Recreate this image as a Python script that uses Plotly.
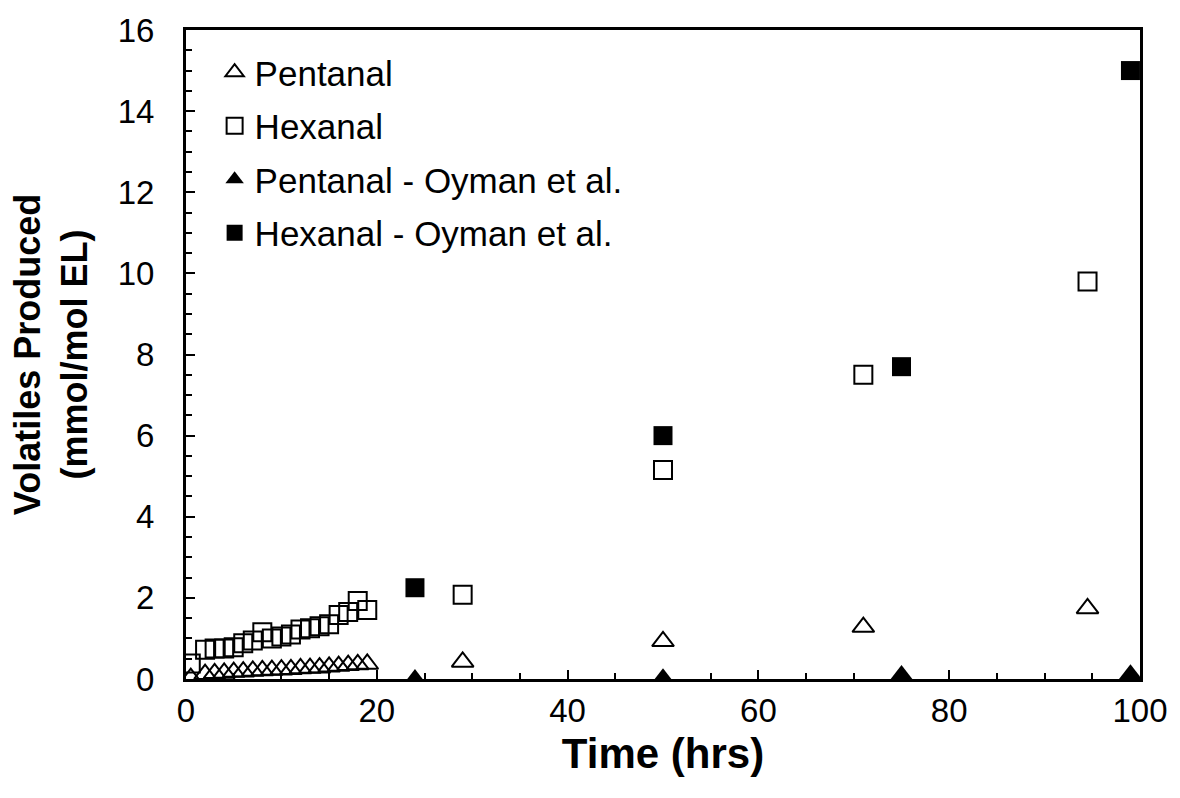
import plotly.graph_objects as go

# Data
pent_x = [0.5, 2, 3, 4, 5, 6, 7, 8, 9, 10, 11, 12, 13, 14, 15, 16, 17, 18, 19, 29, 50, 71, 94.5]
pent_y = [0.02, 0.12, 0.14, 0.15, 0.17, 0.18, 0.2, 0.21, 0.22, 0.23, 0.24, 0.26, 0.27, 0.28, 0.3,
          0.32, 0.34, 0.36, 0.37, 0.42, 0.93, 1.28, 1.74]
hex_x = [0.5, 2, 3, 4, 5, 6, 7, 8, 9, 10, 11, 12, 13, 14, 15, 16, 17, 18, 19, 29, 50, 71, 94.5]
hex_y = [0.38, 0.72, 0.75, 0.75, 0.78, 0.88, 0.95, 1.15, 1.0, 1.05, 1.1, 1.22, 1.25, 1.3, 1.35,
         1.58, 1.65, 1.92, 1.7, 2.08, 5.15, 7.5, 9.8]
oy_pent_x = [24, 50, 75, 99]
oy_pent_y = [0.0, 0.02, 0.1, 0.12]
oy_hex_x = [24, 50, 75, 99]
oy_hex_y = [2.25, 6.0, 7.7, 15.0]

FONT = "Arial, Liberation Sans, sans-serif"

fig = go.Figure()
fig.add_trace(go.Scatter(x=pent_x, y=pent_y, mode="markers", name="Pentanal", legendgroup="a",
                         marker=dict(symbol="triangle-up-open", size=19, color="black",
                                     line=dict(width=2, color="black"))))
fig.add_trace(go.Scatter(x=hex_x, y=hex_y, mode="markers", name="Hexanal", legendgroup="b",
                         marker=dict(symbol="square-open", size=18, color="black",
                                     line=dict(width=2, color="black"))))
fig.add_trace(go.Scatter(x=oy_pent_x, y=oy_pent_y, mode="markers", name="Pentanal - Oyman et al.",
                         legendgroup="c",
                         marker=dict(symbol="triangle-up", size=20, color="black",
                                     line=dict(width=0))))
fig.add_trace(go.Scatter(x=oy_hex_x, y=oy_hex_y, mode="markers", name="Hexanal - Oyman et al.",
                         legendgroup="d",
                         marker=dict(symbol="square", size=19, color="black",
                                     line=dict(width=0))))

fig.update_layout(
    width=1180, height=798,
    margin=dict(l=186, r=24, t=28, b=119),
    paper_bgcolor="white", plot_bgcolor="white",
    font=dict(family=FONT, size=33, color="black"),
    showlegend=True,
    legend=dict(x=0.03, y=0.98, xanchor="left", yanchor="top",
                font=dict(family=FONT, size=35, color="black"),
                bgcolor="rgba(0,0,0,0)", tracegroupgap=5, itemwidth=30),
    xaxis=dict(range=[0, 100], dtick=20, tick0=0, showgrid=False, zeroline=False,
               showline=True, linecolor="black", linewidth=3, mirror=True,
               ticks="inside", ticklen=9, tickwidth=2, tickcolor="black",
               minor=dict(dtick=5, ticks="inside", ticklen=6, tickwidth=2, tickcolor="black"),
               tickfont=dict(family=FONT, size=33), ticklabelstandoff=0,
               ticklabeloverflow="allow",
               title=dict(text="<b>Time (hrs)</b>", font=dict(family=FONT, size=42), standoff=12)),
    yaxis=dict(range=[0, 16], dtick=2, tick0=0, showgrid=False, zeroline=False,
               showline=True, linecolor="black", linewidth=3, mirror=True,
               ticks="inside", ticklen=9, tickwidth=2, tickcolor="black",
               minor=dict(dtick=0.5, ticks="inside", ticklen=6, tickwidth=2, tickcolor="black"),
               tickfont=dict(family=FONT, size=33), ticklabelstandoff=22,
               title=dict(text="<b>Volatiles Produced<br>(mmol/mol EL)</b>",
                          font=dict(family=FONT, size=36), standoff=20)),
)

fig.write_html("out.html")
